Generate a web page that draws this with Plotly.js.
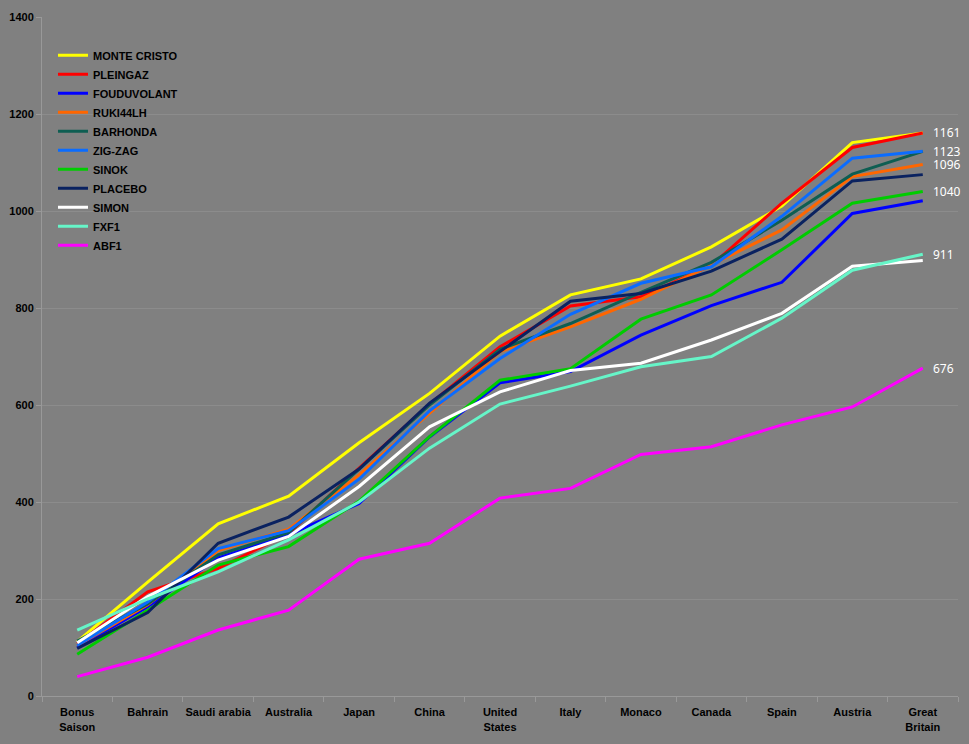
<!DOCTYPE html>
<html>
<head>
<meta charset="utf-8">
<script src="https://cdn.plot.ly/plotly-3.0.1.min.js"></script>
<style>
  html, body { margin: 0; padding: 0; background: #808080; }
  #chart { width: 969px; height: 744px; }
</style>
</head>
<body>
<div id="chart"></div>
<script>
const categories = ["Bonus<br>Saison", "Bahrain", "Saudi arabia", "Australia", "Japan", "China", "United<br>States", "Italy", "Monaco", "Canada", "Spain", "Austria", "Great<br>Britain"];

const monteCristo = [112, 235, 355, 412, 522, 624, 742, 827, 860, 926, 1010, 1141, 1161];
const pleingaz    = [108, 215, 263, 335, 470, 602, 720, 804, 823, 888, 1016, 1131, 1161];
const fouduvolant = [100, 184, 285, 332, 397, 534, 646, 669, 744, 805, 853, 995, 1021];
const ruki44lh    = [104, 188, 300, 344, 456, 583, 710, 761, 818, 889, 961, 1071, 1096];
const barhonda    = [113, 190, 291, 337, 468, 600, 715, 768, 832, 894, 981, 1076, 1123];
const zigzag      = [104, 194, 304, 341, 447, 588, 696, 787, 851, 885, 989, 1109, 1123];
const sinok       = [86, 177, 270, 308, 402, 535, 651, 675, 777, 827, 920, 1016, 1040];
const placebo     = [98, 172, 315, 369, 468, 604, 710, 814, 830, 876, 942, 1062, 1075];
const simon       = [110, 205, 280, 329, 432, 555, 627, 671, 686, 734, 789, 886, 898];
const fxf1        = [136, 200, 256, 322, 400, 511, 602, 639, 679, 700, 779, 878, 911];
const abf1        = [40, 80, 136, 177, 282, 315, 408, 428, 498, 514, 559, 596, 676];

const seriesNames = ["MONTE CRISTO", "PLEINGAZ", "FOUDUVOLANT", "RUKI44LH", "BARHONDA", "ZIG-ZAG", "SINOK", "PLACEBO", "SIMON", "FXF1", "ABF1"];
const seriesValues = [monteCristo, pleingaz, fouduvolant, ruki44lh, barhonda, zigzag, sinok, placebo, simon, fxf1, abf1];
const seriesColors = ["#FFFF00", "#FF0000", "#0000FF", "#FF6600", "#0E5E52", "#0A6CFF", "#00CC00", "#0A2260", "#FFFFFF", "#66F5C8", "#FF00FF"];

// series that carry a data label on their last point
const labeledSeries = ["PLEINGAZ", "ZIG-ZAG", "RUKI44LH", "SINOK", "FXF1", "ABF1"];

const traces = seriesNames.map((name, i) => ({
  type: "scatter",
  mode: "lines",
  name: name,
  x: categories,
  y: seriesValues[i],
  line: { color: seriesColors[i], width: 3 },
  hoverinfo: "skip"
}));

const lastCat = categories[categories.length - 1];
const annotations = labeledSeries.map(name => {
  const vals = seriesValues[seriesNames.indexOf(name)];
  const v = vals[vals.length - 1];
  return {
    x: lastCat, y: v, xref: "x", yref: "y",
    text: String(v), showarrow: false,
    xanchor: "left", yanchor: "middle", xshift: 9,
    borderpad: 0,
    font: { family: "Noto Sans, DejaVu Sans, sans-serif", size: 12, color: "#FFFFFF" }
  };
});

const tickFont = { family: "Liberation Sans, Arial, sans-serif", size: 11, color: "#000000", weight: "bold" };

const layout = {
  width: 969, height: 744,
  paper_bgcolor: "#808080",
  plot_bgcolor: "#808080",
  margin: { l: 42, r: 11, t: 17, b: 48, pad: 0 },
  showlegend: true,
  legend: {
    x: 0.012, y: 0.965, xanchor: "left", yanchor: "top",
    bgcolor: "rgba(0,0,0,0)",
    font: { family: "Liberation Sans, Arial, sans-serif", size: 11, color: "#000000", weight: "bold" },
    tracegroupgap: 0
  },
  xaxis: {
    type: "category",
    range: [-0.5, 12.5],
    showgrid: false,
    showline: true, linecolor: "#999999", linewidth: 1,
    ticks: "outside", ticklen: 5, tickcolor: "#999999", tickson: "boundaries",
    tickangle: 0,
    ticklabelstandoff: 6,
    tickfont: tickFont,
    fixedrange: true
  },
  yaxis: {
    range: [0, 1400],
    dtick: 200,
    showgrid: true, gridcolor: "#8C8C8C", gridwidth: 1,
    zeroline: false,
    showline: true, linecolor: "#999999", linewidth: 1,
    ticks: "outside", ticklen: 5, tickcolor: "#999999",
    tickfont: tickFont,
    fixedrange: true
  },
  annotations: annotations,
  hovermode: false
};

Plotly.newPlot("chart", traces, layout, { displayModeBar: false, staticPlot: true });
</script>
</body>
</html>
